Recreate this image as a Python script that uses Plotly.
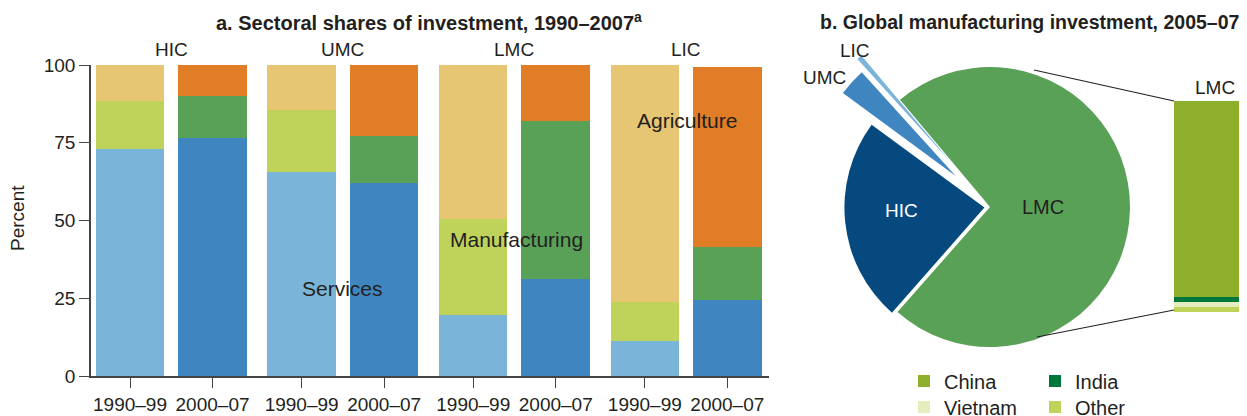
import plotly.graph_objects as go

# ---------------- data ----------------
groups = ["HIC", "UMC", "LMC", "LIC"]
periods = ["1990–99", "2000–07"]
services = [73.0, 76.6, 65.7, 62.2, 19.6, 31.2, 11.3, 24.5]
manufacturing = [15.5, 13.4, 19.8, 15.1, 30.9, 50.8, 12.6, 17.1]
agriculture = [11.5, 10.0, 14.5, 22.7, 49.5, 18.0, 76.1, 57.8]

pie_labels = ["LMC", "HIC", "UMC", "LIC"]
pie_values = [72.6, 23.6, 3.2, 0.6]

lmc_parts = ["Other", "Vietnam", "India", "China"]   # bottom -> top
lmc_values = [2.4, 2.4, 2.5, 92.7]

y_ticks = [0, 25, 50, 75, 100]

# ---------------- style / geometry helpers ----------------
FONT = "Liberation Sans, Arial, sans-serif"
TXT = "#231F20"
OFF = 8                      # page body margin
W, H = 1247 - OFF, 416 - OFF


def fx(X):  # screen pixel -> paper fraction
    return min(1.0, max(0.0, (X - OFF) / W))


def fy(Y):
    return min(1.0, max(0.0, 1 - (Y - OFF) / H))


GROUP_STEP = 2.08
svc_cols = ["#7AB5D9", "#3F86C1"]
man_cols = ["#BFD35B", "#5AA158"]
agr_cols = ["#E6C673", "#E07D26"]
pie_cols = ["#5AA158", "#05497E", "#3F86C1", "#7AB5D9"]
lmc_cols = {"China": "#8FAE2B", "India": "#00773A", "Vietnam": "#E5EDBE", "Other": "#BFD35B"}
lmc_rank = {"China": 1, "India": 2, "Vietnam": 3, "Other": 4}
lmc_legend = {"China": "legend", "India": "legend", "Vietnam": "legend2", "Other": "legend2"}

xs, xt, cols_s, cols_m, cols_a = [], [], [], [], []
for g in range(len(groups)):
    for p in range(len(periods)):
        xs.append(g * GROUP_STEP + p)
        xt.append(periods[p])
        cols_s.append(svc_cols[p])
        cols_m.append(man_cols[p])
        cols_a.append(agr_cols[p])

fig = go.Figure()
for name, vals, cols in [("Services", services, cols_s),
                         ("Manufacturing", manufacturing, cols_m),
                         ("Agriculture", agriculture, cols_a)]:
    fig.add_trace(go.Bar(x=xs, y=vals, name=name, marker=dict(color=cols, line=dict(width=0)),
                         width=0.83, showlegend=False, xaxis="x", yaxis="y"))

PCX, PCY, PR, MAXPULL = 990, 207, 140, 0.42
half = PR * (1 + MAXPULL)
fig.add_trace(go.Pie(labels=pie_labels, values=pie_values, sort=False, direction="clockwise",
                     rotation=-40, pull=[0, 0.04, 0.33, MAXPULL],
                     marker=dict(colors=pie_cols, line=dict(width=0)),
                     textinfo="none",
                     domain=dict(x=[fx(PCX - half), fx(PCX + half)], y=[fy(PCY + half), fy(PCY - half)]),
                     showlegend=False, hoverinfo="label+percent"))

for name, v in zip(lmc_parts, lmc_values):
    fig.add_trace(go.Bar(x=[0], y=[v], name=name, marker=dict(color=lmc_cols[name], line=dict(width=0)),
                         width=1, xaxis="x2", yaxis="y2", legend=lmc_legend[name],
                         legendrank=lmc_rank[name]))


def note(text, x, y, size=20, color=TXT, xref="paper", yref="paper", **kw):
    return dict(text=text, x=x, y=y, xref=xref, yref=yref, showarrow=False,
                xanchor="center", yanchor="middle",
                font=dict(size=size, family=FONT, color=color), **kw)


annotations = [
    note("<b>a. Sectoral shares of investment, 1990–2007<sup>a</sup></b>", fx(429), fy(21), size=20),
    note("<b>b. Global manufacturing investment, 2005–07</b>", fx(1029), fy(22), size=19.5),
    note("Percent", fx(18), fy(218), size=19, textangle=-90),
    note("Services", 2.58, 28, size=21, xref="x", yref="y"),
    note("Manufacturing", 4.68, 44, size=21, xref="x", yref="y"),
    note("Agriculture", 6.75, 82.3, size=21, xref="x", yref="y"),
    note("LMC", fx(1043), fy(207), size=20),
    note("HIC", fx(901), fy(210), size=19, color="white"),
    note("UMC", fx(824), fy(77), size=19),
    note("LIC", fx(855), fy(51), size=19),
    note("LMC", fx(1215), fy(88), size=19),
]
for g, name in enumerate(groups):
    annotations.append(note(name, g * GROUP_STEP + 0.5, fy(50), size=19, xref="x"))

shapes = [
    dict(type="line", xref="paper", yref="paper", x0=fx(1034), y0=fy(70), x1=fx(1174), y1=fy(101),
         line=dict(color="#222222", width=1.2)),
    dict(type="line", xref="paper", yref="paper", x0=fx(1037), y0=fy(337), x1=fx(1174), y1=fy(310),
         line=dict(color="#222222", width=1.2)),
]

axis_col = "#444444"
legend_common = dict(orientation="h", xanchor="left", yanchor="middle", entrywidth=86,
                     traceorder="normal", font=dict(size=20, family=FONT, color=TXT),
                     bgcolor="rgba(0,0,0,0)")

fig.update_layout(
    width=W, height=H, margin=dict(l=0, r=0, t=0, b=0, autoexpand=False),
    paper_bgcolor="white", plot_bgcolor="white",
    barmode="stack", bargap=0,
    font=dict(family=FONT, color=TXT, size=19),
    xaxis=dict(domain=[fx(91), fx(769)], range=[-0.473, 7.745], tickvals=xs, ticktext=xt,
               ticks="outside", ticklen=10, tickcolor=axis_col, showline=True, linecolor=axis_col,
               linewidth=1.5, showgrid=False, zeroline=False, tickfont=dict(size=19, color=TXT)),
    yaxis=dict(domain=[fy(376), fy(65)], range=[0, 100], tickvals=y_ticks,
               ticks="outside", ticklen=10, tickcolor=axis_col, showline=True, linecolor=axis_col,
               linewidth=1.5, showgrid=False, zeroline=False, tickfont=dict(size=19, color=TXT)),
    xaxis2=dict(domain=[fx(1174), 1.0], range=[-0.5, 0.5], visible=False, anchor="y2"),
    yaxis2=dict(domain=[fy(312), fy(101)], range=[0, 100], visible=False, anchor="x2"),
    legend=dict(x=fx(904), y=fy(381), **legend_common),
    legend2=dict(x=fx(904), y=fy(407), **legend_common),
    annotations=annotations, shapes=shapes,
)

fig.write_html("out.html")
